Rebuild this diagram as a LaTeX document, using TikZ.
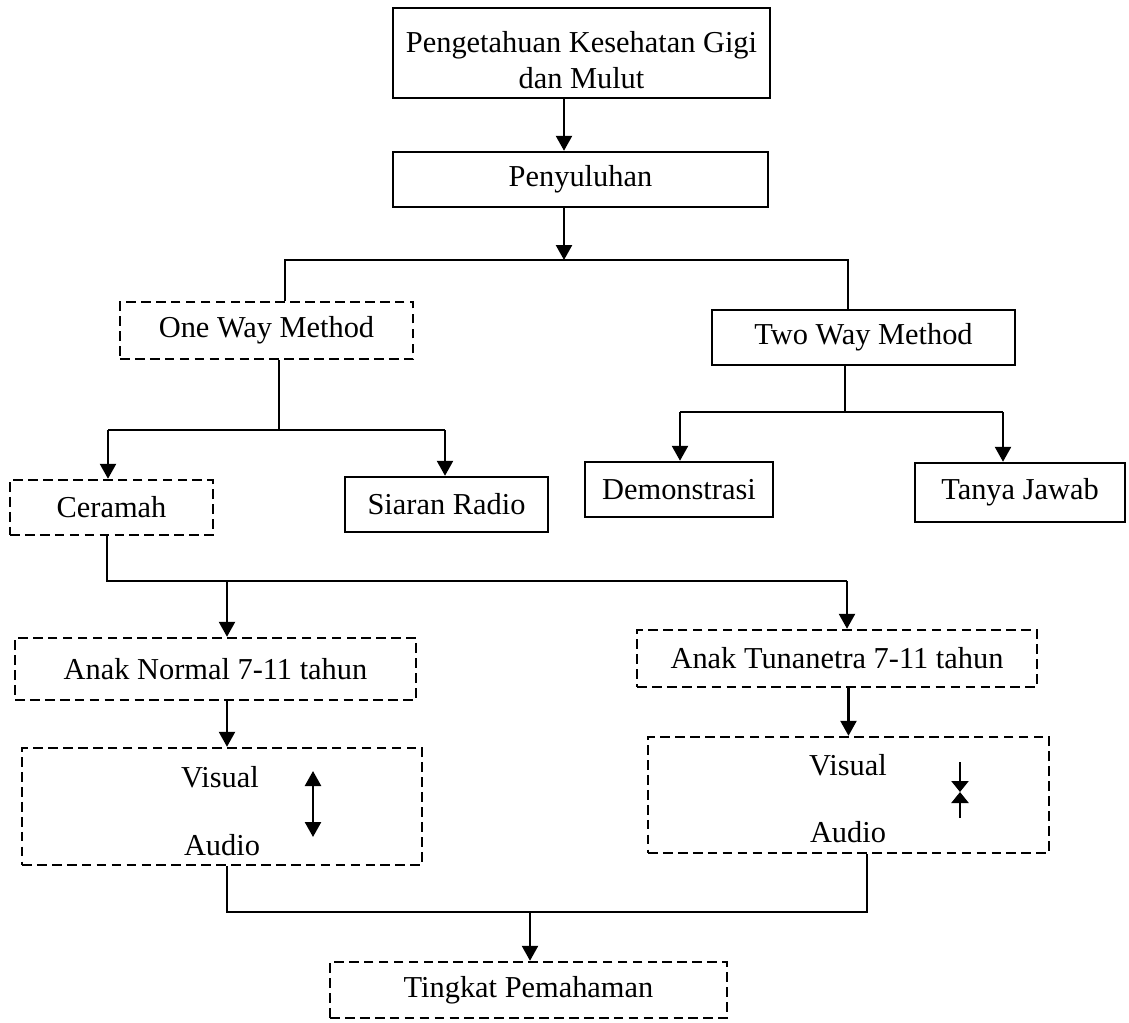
\documentclass[tikz,border=0pt]{standalone}
\usepackage{fontspec}
\setmainfont{Liberation Serif}
\usetikzlibrary{arrows.meta}

\tikzset{
  box/.style={draw, line width=1.4pt, inner sep=0pt, align=center,
    font=\fontsize{17.3}{20.5}\selectfont},
  dbox/.style={box, dash pattern=on 5.5pt off 3pt},
  label/.style={inner sep=0pt, font=\fontsize{17.3}{20.5}\selectfont},
  link/.style={line width=1.4pt},
  arr/.style={link, -{Triangle[length=0.3cm, width=0.32cm]}}
}

\begin{document}
\begin{tikzpicture}[x=0.02cm, y=-0.02cm]
    \useasboundingbox (0,0) rectangle (1129,1022);

    \node[box, minimum width=7.54cm, minimum height=1.8cm] (peng) at (581.5,53) {\rule{0pt}{20pt}Pengetahuan Kesehatan Gigi\\dan Mulut};
    \node[box, minimum width=7.5cm, minimum height=1.1cm] (peny) at (580.5,179.5) {Penyuluhan};

    \node[dbox, minimum width=5.86cm, minimum height=1.14cm] (oneway) at (266.5,330.5) {One Way Method};
    \node[box, minimum width=6.06cm, minimum height=1.1cm] (twoway) at (863.5,337.5) {Two Way Method};

    \node[dbox, minimum width=4.06cm, minimum height=1.1cm] (ceramah) at (111.5,507.5) {Ceramah};
    \node[box, minimum width=4.06cm, minimum height=1.1cm] (radio) at (446.5,504.5) {Siaran Radio};
    \node[box, minimum width=3.76cm, minimum height=1.1cm] (demo) at (679,489.5) {Demonstrasi};
    \node[box, minimum width=4.2cm, minimum height=1.18cm] (tanya) at (1020,492.5) {Tanya Jawab};

    \node[dbox, minimum width=8.02cm, minimum height=1.24cm] (normal) at (215.5,669) {Anak Normal 7-11 tahun};
    \node[dbox, minimum width=8cm, minimum height=1.14cm] (tunanetra) at (837,658.5) {Anak Tunanetra 7-11 tahun};

    \node[dbox, minimum width=8cm, minimum height=2.34cm] (vaL) at (222,806.5) {};
    \node[label] (visL) at (220,777) {Visual};
    \node[label] (audL) at (222,845) {Audio};
    \node[dbox, minimum width=8.02cm, minimum height=2.32cm] (vaR) at (848.5,795) {};
    \node[label] (visR) at (848,765) {Visual};
    \node[label] (audR) at (848,832) {Audio};

    \node[dbox, minimum width=7.94cm, minimum height=1.12cm] (tingkat) at (528.5,990) {Tingkat Pemahaman};

    \coordinate (j1) at (564,260);
    \coordinate (a1) at (285,260);
    \coordinate (a2) at (848,260);
    \coordinate (b0) at (279,430);
    \coordinate (b1) at (108,430);
    \coordinate (b2) at (445,430);
    \coordinate (c0) at (845,412);
    \coordinate (c1) at (680,412);
    \coordinate (c2) at (1003,412);
    \coordinate (d0) at (107,581);
    \coordinate (d1) at (227,581);
    \coordinate (d2) at (847,581);
    \coordinate (f0) at (530,912);
    \coordinate (f1) at (227,912);
    \coordinate (f2) at (867,912);

    \draw[arr] (peng.south -| j1) -- (peny.north -| j1);
    \draw[arr] (peny.south -| j1) -- (j1);
    \draw[link] (oneway.north -| a1) -- (a1) -- (a2) -- (twoway.north -| a2);

    \draw[link] (oneway.south -| b0) -- (b0);
    \draw[link] (b1) -- (b2);
    \draw[arr] (b1) -- (ceramah.north -| b1);
    \draw[arr] (b2) -- (radio.north -| b2);

    \draw[link] (twoway.south -| c0) -- (c0);
    \draw[link] (c1) -- (c2);
    \draw[arr] (c1) -- (demo.north -| c1);
    \draw[arr] (c2) -- (tanya.north -| c2);

    \draw[link] (ceramah.south -| d0) -- (d0) -- (d2);
    \draw[arr] (d1) -- (normal.north -| d1);
    \draw[arr] (d2) -- (tunanetra.north -| d2);

    \draw[arr] (normal.south -| d1) -- (vaL.north -| d1);
    \draw[arr] (tunanetra.south -| vaR.north) -- (vaR.north);

    \coordinate (pL1) at (313,771);
    \coordinate (pL2) at (313,837);
    \draw[link, {Triangle[length=0.3cm, width=0.32cm]}-{Triangle[length=0.3cm, width=0.32cm]}] (pL1) -- (pL2);
    \coordinate (pR1) at (960,762);
    \coordinate (pR0) at (960,792);
    \coordinate (pR2) at (960,818);
    \draw[link, -{Triangle[length=0.22cm, width=0.34cm]}] (pR1) -- (pR0);
    \draw[link, -{Triangle[length=0.22cm, width=0.34cm]}] (pR2) -- (pR0);

    \draw[link] (vaL.south -| f1) -- (f1) -- (f2) -- (vaR.south -| f2);
    \draw[arr] (f0) -- (tingkat.north -| f0);
\end{tikzpicture}
\end{document}
